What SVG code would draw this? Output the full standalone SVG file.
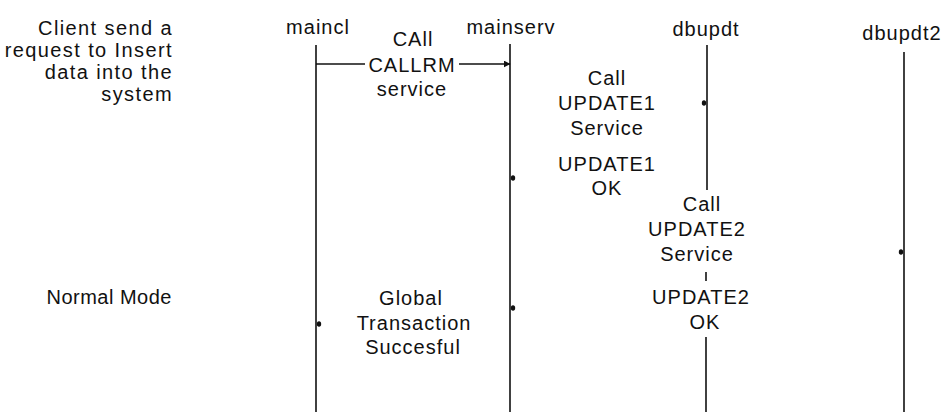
<svg xmlns="http://www.w3.org/2000/svg" width="948" height="412" viewBox="0 0 948 412">
  <style>
    text { font-family: "Liberation Sans", Arial, Helvetica, sans-serif; font-size: 20px; fill: #111; letter-spacing: 1px; }
    .mid { text-anchor: middle; }
    .end { text-anchor: end; }
    .wide { letter-spacing: 1.4px; }
    .narrow { letter-spacing: 0.5px; }
    .life { stroke: #111; stroke-width: 1.6; fill: none; }
    .msg { stroke: #111; stroke-width: 1.6; fill: none; }
    .tip { fill: #111; }
  </style>
  <defs>
    <marker id="arr" viewBox="0 0 10 10" refX="9" refY="5" markerWidth="7" markerHeight="7" markerUnits="userSpaceOnUse" orient="auto">
      <path d="M0,0 L10,5 L0,10 z" fill="#111"/>
    </marker>
  </defs>
  <rect width="948" height="412" fill="#fff"/>

  <g id="note-client">
    <text class="end wide" x="173" y="35">Client send a</text>
    <text class="end wide" x="173" y="57">request to Insert</text>
    <text class="end wide" x="173" y="79">data into the</text>
    <text class="end wide" x="173" y="101">system</text>
  </g>
  <g id="note-normal">
    <text class="end narrow" x="172" y="304">Normal Mode</text>
  </g>

  <g id="maincl">
    <text class="mid" x="318" y="34">maincl</text>
    <line class="life" x1="316" y1="45" x2="316" y2="412"/>
  </g>
  <g id="mainserv">
    <text class="mid" x="511" y="34">mainserv</text>
    <line class="life" x1="510" y1="44" x2="510" y2="412"/>
  </g>
  <g id="dbupdt">
    <text class="mid" x="706" y="36">dbupdt</text>
    <line class="life" x1="707" y1="45" x2="707" y2="190"/>
    <line class="life" x1="706" y1="272" x2="706" y2="281"/>
    <line class="life" x1="706" y1="337" x2="706" y2="412"/>
  </g>
  <g id="dbupdt2">
    <text class="mid" x="902" y="40">dbupdt2</text>
    <line class="life" x1="904" y1="52" x2="904" y2="412"/>
  </g>

  <g id="connectors">
    <line class="msg" x1="316" y1="64" x2="365" y2="64"/>
    <line class="msg" x1="459" y1="64" x2="510" y2="64" marker-end="url(#arr)"/>
    <ellipse class="tip" cx="704" cy="103" rx="2.2" ry="2.8"/>
    <ellipse class="tip" cx="513" cy="178" rx="2.2" ry="2.8"/>
    <ellipse class="tip" cx="901" cy="252" rx="2.2" ry="2.8"/>
    <ellipse class="tip" cx="513" cy="308" rx="2.2" ry="2.8"/>
    <ellipse class="tip" cx="319" cy="324" rx="2.2" ry="2.8"/>
  </g>

  <g id="label-callrm">
    <text class="mid" x="413" y="46">CAll</text>
    <text class="mid" x="412" y="72">CALLRM</text>
    <text class="mid" x="412" y="96">service</text>
  </g>
  <g id="label-update1">
    <text class="mid" x="607" y="85">Call</text>
    <text class="mid" x="607" y="110">UPDATE1</text>
    <text class="mid" x="607" y="135">Service</text>
    <text class="mid" x="607" y="171">UPDATE1</text>
    <text class="mid" x="607" y="195">OK</text>
  </g>
  <g id="label-update2">
    <text class="mid" x="702" y="211">Call</text>
    <text class="mid" x="697" y="236">UPDATE2</text>
    <text class="mid" x="697" y="261">Service</text>
    <text class="mid" x="701" y="304">UPDATE2</text>
    <text class="mid" x="705" y="329">OK</text>
  </g>
  <g id="label-global">
    <text class="mid" x="411" y="305">Global</text>
    <text class="mid" x="414" y="330">Transaction</text>
    <text class="mid" x="413" y="354">Succesful</text>
  </g>
</svg>
